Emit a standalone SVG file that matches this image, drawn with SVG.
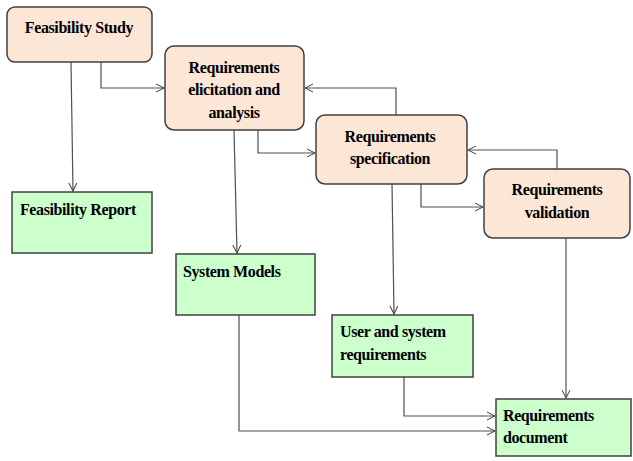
<svg xmlns="http://www.w3.org/2000/svg" width="633" height="461" viewBox="0 0 633 461">
<defs>
<marker id="arr" markerWidth="10" markerHeight="10" refX="9" refY="5" orient="auto" markerUnits="userSpaceOnUse">
<path d="M1,1 L9,5 L1,9" fill="none" stroke="#404040" stroke-width="1"/>
</marker>
<style>
.proc{fill:#fce6d6;stroke:#404040;stroke-width:1.5}
.doc{fill:#ccffcc;stroke:#404040;stroke-width:1.5}
.t{font-family:"Liberation Serif","Times New Roman",serif;font-weight:bold;font-size:16px;letter-spacing:-0.4px;fill:#000}
.c{text-anchor:middle}
.ln{fill:none;stroke:#505050;stroke-width:1.2;marker-end:url(#arr)}
</style>
</defs>
<rect width="633" height="461" fill="#fff"/>
<g id="connectors">
<path class="ln" d="M71,62 L73,191"/>
<path class="ln" d="M101,62 V88 H164"/>
<path class="ln" d="M234,130 L237,253"/>
<path class="ln" d="M258,130 V153 H315"/>
<path class="ln" d="M396,115 V88 H305"/>
<path class="ln" d="M421,184 V207 H483"/>
<path class="ln" d="M557,169 V150 H468"/>
<path class="ln" d="M392,184 L394,314"/>
<path class="ln" d="M566,238 V398"/>
<path class="ln" d="M404,377 V416 H495"/>
<path class="ln" d="M239,315 V431 H495"/>
</g>
<g id="feasibility-study">
<rect class="proc" x="7" y="7" width="145" height="55" rx="8"/>
<text class="t c" x="79" y="33">Feasibility Study</text>
</g>
<g id="elicitation">
<rect class="proc" x="165" y="46" width="139" height="84" rx="9"/>
<text class="t c" x="234" y="73">Requirements</text>
<text class="t c" x="234" y="95">elicitation and</text>
<text class="t c" x="234" y="118">analysis</text>
</g>
<g id="specification">
<rect class="proc" x="316" y="115" width="151" height="69" rx="9"/>
<text class="t c" x="390" y="142">Requirements</text>
<text class="t c" x="390" y="164">specification</text>
</g>
<g id="validation">
<rect class="proc" x="484" y="169" width="146" height="69" rx="9"/>
<text class="t c" x="557" y="195">Requirements</text>
<text class="t c" x="557" y="218">validation</text>
</g>
<g id="feasibility-report">
<rect class="doc" x="12" y="192" width="140" height="61"/>
<text class="t" x="20" y="215">Feasibility Report</text>
</g>
<g id="system-models">
<rect class="doc" x="176" y="254" width="139" height="61"/>
<text class="t" x="183" y="277">System Models</text>
</g>
<g id="user-system-requirements">
<rect class="doc" x="332" y="315" width="141" height="62"/>
<text class="t" x="340" y="337">User and system</text>
<text class="t" x="340" y="360">requirements</text>
</g>
<g id="requirements-document">
<rect class="doc" x="496" y="399" width="135" height="57"/>
<text class="t" x="503" y="421">Requirements</text>
<text class="t" x="503" y="443">document</text>
</g>
</svg>
